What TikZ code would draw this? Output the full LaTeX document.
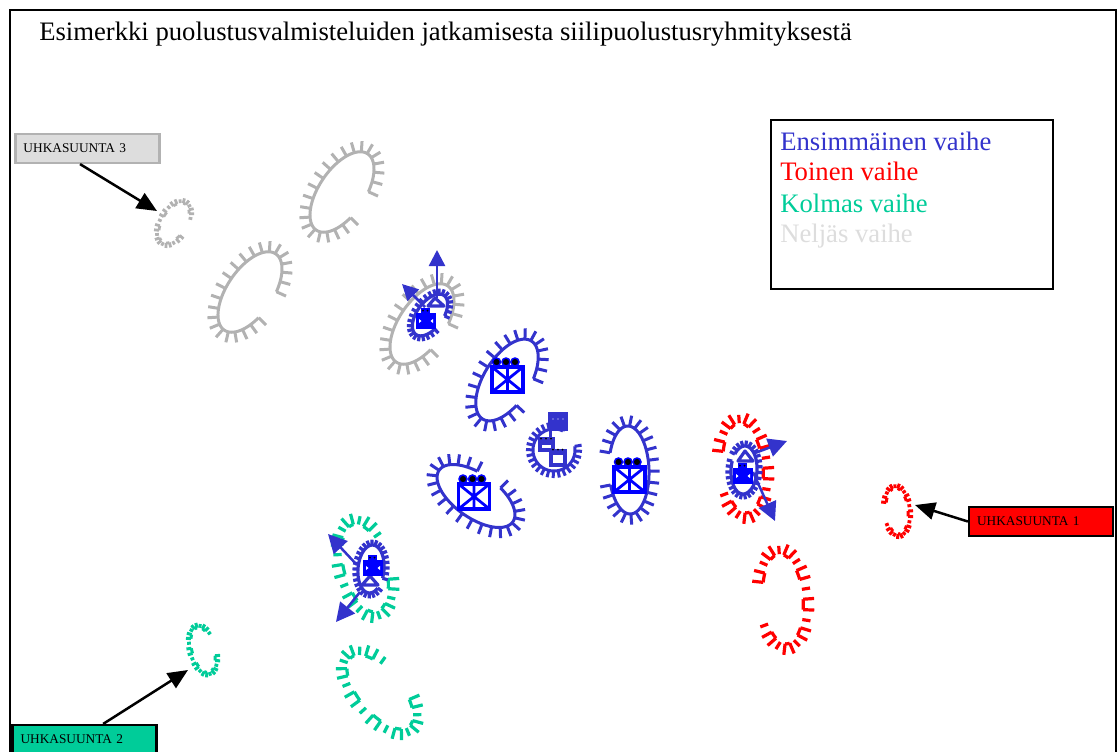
\documentclass[tikz,border=0pt]{standalone}
\usepackage{fontspec}
\setmainfont{Liberation Serif}
\usetikzlibrary{arrows.meta}
\definecolor{cblue}{HTML}{3333CC}
\definecolor{cpure}{HTML}{0000FF}
\definecolor{cred}{HTML}{FF0000}
\definecolor{cgreen}{HTML}{00CC99}
\definecolor{cgray}{HTML}{B2B2B2}
\definecolor{clight}{HTML}{DDDDDD}
\tikzset{
  px/.style={line width=#1*0.75pt},
  ubox/.style={draw=black,px=2.2,minimum width=144pt*0.75,minimum height=29pt*0.75,inner sep=0pt,text width=128pt*0.75,align=left,font=\fontsize{10}{12}\selectfont},
  legendtxt/.style={anchor=base west,inner sep=0pt,font=\fontsize{20}{24}\selectfont},
  pointer/.style={draw=black,px=2.5,-{Triangle[length=15pt,width=13pt]}},
  move/.style={draw=cblue,px=2.5,-{Triangle[length=12pt,width=12pt]}},
  movebig/.style={draw=cblue,px=2.5,-{Triangle[length=14pt,width=14pt]}},
  spike/.style={px=#1,line cap=butt,line join=round},
}
\newcommand{\EllPoint}[6]{%
  \pgfmathsetmacro{\ex}{#1+#3*cos(#6)*cos(#5)-#4*sin(#6)*sin(#5)}%
  \pgfmathsetmacro{\ey}{#2+#3*cos(#6)*sin(#5)+#4*sin(#6)*cos(#5)}%
  \pgfmathsetmacro{\nu}{cos(#6)/#3}%
  \pgfmathsetmacro{\nv}{sin(#6)/#4}%
  \pgfmathsetmacro{\nl}{sqrt(\nu*\nu+\nv*\nv)}%
  \pgfmathsetmacro{\nx}{(\nu*cos(#5)-\nv*sin(#5))/\nl}%
  \pgfmathsetmacro{\ny}{(\nu*sin(#5)+\nv*cos(#5))/\nl}%
}
\newcommand{\ArcSpike}[9]{%
  \draw[domain=#6:#7,samples=70,variable=\t]
    plot ({#1+#3*cos(\t)*cos(#5)-#4*sin(\t)*sin(#5)},{#2+#3*cos(\t)*sin(#5)+#4*sin(\t)*cos(#5)});
  \foreach \i in {0,...,#8}{%
    \pgfmathsetmacro{\tt}{#6+\i*(#7-#6)/#8}%
    \EllPoint{#1}{#2}{#3}{#4}{#5}{\tt}%
    \draw (\ex,\ey) -- ++({#9*\nx},{#9*\ny});
  }%
}
\newcommand{\ArcBroken}[9]{%
  \pgfmathsetmacro{\dd}{(#7-#6)/#8}%
  \foreach \i in {1,...,#8}{%
    \pgfmathsetmacro{\ta}{#6+(\i-1)*\dd}%
    \pgfmathsetmacro{\tb}{\ta+0.34*\dd}%
    \pgfmathsetmacro{\tc}{\ta+0.68*\dd}%
    \draw[domain=\ta:\tb,samples=6,variable=\t]
      plot ({#1+#3*cos(\t)*cos(#5)-#4*sin(\t)*sin(#5)},{#2+#3*cos(\t)*sin(#5)+#4*sin(\t)*cos(#5)});
    \EllPoint{#1}{#2}{#3}{#4}{#5}{\ta}%
    \draw (\ex,\ey) -- ++({#9*\nx},{#9*\ny});
    \EllPoint{#1}{#2}{#3}{#4}{#5}{\tb}%
    \draw (\ex,\ey) -- ++({#9*\nx},{#9*\ny});
    \EllPoint{#1}{#2}{#3}{#4}{#5}{\tc}%
    \draw (\ex,\ey) -- ++({0.75*#9*\nx},{0.75*#9*\ny});
  }%
}
\newcommand{\BigUnit}[2]{%
  \begin{scope}[shift={(#1,#2)}]
    \draw[cpure,px=3.5] (0,0) rectangle (31,25);
    \draw[cpure,px=2.8] (0,0) -- (31,25) (31,0) -- (0,25) (15.5,0) -- (15.5,25);
    \foreach \d in {4.5,14,23}{\fill[black,draw=cpure,px=1.5] (\d,-5) circle (4);}
  \end{scope}}
\newcommand{\SmallUnit}[2]{%
  \begin{scope}[shift={(#1,#2)}]
    \fill[cpure] (0,0) rectangle (20,16);
    \fill[cpure] (5,-5) rectangle (14,0);
    \fill[white] (3,6) -- (5.5,8) -- (3,10) -- cycle (17,6) -- (14.5,8) -- (17,10) -- cycle;
    \fill[black] (7,-2.5) circle (1) (11.5,-2.5) circle (1);
  \end{scope}}
\newcommand{\Tri}[6]{\draw[cblue,px=3.2,line join=round] (#1,#2) -- (#3,#4) -- (#5,#6) -- cycle;}
\begin{document}
\begin{tikzpicture}[x=0.75pt,y=-0.75pt]
\path[use as bounding box] (0,0) rectangle (1117,751);
\clip (0,0) rectangle (1117,751);
\draw[black,px=2] (9.5,770) -- (9.5,9.5) -- (1115.5,9.5) -- (1115.5,770);
\node[legendtxt] (title) at (39,40) {Esimerkki puolustusvalmisteluiden jatkamisesta siilipuolustusryhmityksestä};
\node[draw=black,px=2.5,minimum width=282*0.75pt,minimum height=169*0.75pt,inner sep=0pt] (legend) at (912,204.5) {};
\node[legendtxt,text=cblue] (l1) at (780,150) {Ensimmäinen vaihe};
\node[legendtxt,text=cred] (l2) at (780,180) {Toinen vaihe};
\node[legendtxt,text=cgreen] (l3) at (780,212) {Kolmas vaihe};
\node[legendtxt,text=clight] (l4) at (780,242) {Neljäs vaihe};
% gray
\begin{scope}[cgray,spike=3]
  \ArcSpike{342}{192}{46}{23}{-56}{111}{431}{22}{10.5}
  \ArcSpike{250}{292}{46}{23}{-56}{111}{431}{22}{10.5}
  \ArcSpike{422}{324}{46}{23}{-56}{111}{431}{22}{10.5}
\end{scope}
\begin{scope}[cgray,spike=2.8]
  \ArcBroken{174}{223}{22}{12}{-60}{111}{431}{8}{5}
\end{scope}
% red
\begin{scope}[cred,spike=3.2]
  \ArcBroken{743}{468}{45}{20}{85}{114}{431}{8}{11}
  \ArcBroken{783}{599}{45}{20}{85}{114}{431}{8}{11}
\end{scope}
\begin{scope}[cred,spike=3]
  \ArcBroken{897}{511}{23}{11}{85}{114}{431}{8}{5}
\end{scope}
% green
\begin{scope}[cgreen,spike=3.2]
  \ArcBroken{365}{568}{45}{21}{75}{292}{605}{8}{11}
  \ArcBroken{380}{692}{45}{21}{50}{303}{614}{8}{11}
\end{scope}
\begin{scope}[cgreen,spike=3]
  \ArcBroken{203}{650}{23}{11}{75}{292}{605}{8}{5}
\end{scope}
% blue outlines
\begin{scope}[cblue,spike=3]
  \ArcSpike{507}{380}{46}{23}{-58}{111}{431}{22}{10.5}
  \ArcSpike{476}{496}{45}{22}{35}{290}{613}{22}{10.5}
  \ArcSpike{629}{470}{44}{20}{88}{114}{431}{22}{10.5}
  \ArcSpike{554}{450}{21}{21}{0}{-10}{295}{24}{7}
\end{scope}
\begin{scope}[cblue,spike=3.2]
  \ArcSpike{430}{315}{24}{13}{-54}{111}{431}{24}{5.5}
  \ArcSpike{744}{470}{24}{13}{93}{130}{470}{26}{5.5}
  \ArcSpike{371}{569}{24}{13}{95}{320}{650}{26}{5.5}
\end{scope}
% units
\BigUnit{492}{367}
\BigUnit{458.5}{484}
\BigUnit{614}{467}
% centre small group
\fill[cblue] (548,412) rectangle (568,431);
\draw[cblue,px=3] (550,431) -- (550,438);
\foreach \d in {553,558,563}{\fill[white] (\d,419) circle (0.7);}
\draw[cblue,px=3.5,fill=white] (540,439) rectangle (553,450);
\fill[cblue] (538.5,439) rectangle (554,445);
\foreach \d in {541,546,551}{\fill[black] (\d,438.5) circle (1);}
\draw[cblue,px=3.5,fill=white] (551,451) rectangle (565,465);
\fill[cblue] (549.5,450) rectangle (566.5,455);
\foreach \d in {553,558,562.5}{\fill[black] (\d,449.5) circle (1);}
% small units + triangles + arrows
\coordinate (a1s) at (437,298); \coordinate (a1e) at (437,250);
\coordinate (a2s) at (425,307); \coordinate (a2e) at (402,284);
\draw[move] (a1s) -- (a1e);
\draw[move] (a2s) -- (a2e);
\Tri{435}{298}{428}{306}{444}{306}
\SmallUnit{416}{313}
\coordinate (b1s) at (755,453); \coordinate (b1e) at (787,441);
\coordinate (b2s) at (753,472); \coordinate (b2e) at (775,521);
\draw[movebig] (b1s) -- (b1e);
\draw[movebig] (b2s) -- (b2e);
\Tri{745}{451}{738}{461}{753}{461}
\SmallUnit{733}{468}
\coordinate (c1s) at (357,565); \coordinate (c1e) at (328,534);
\coordinate (c2s) at (360,592); \coordinate (c2e) at (336,622);
\draw[movebig] (c1s) -- (c1e);
\draw[movebig] (c2s) -- (c2e);
\Tri{370}{576}{362}{585}{378}{585}
\SmallUnit{363}{560}
% labels
\node[ubox,draw=cgray,fill=clight] (u3) at (87.5,148.5) {UHKASUUNTA 3};
\node[ubox,fill=cgreen] (u2) at (84.5,739.5) {UHKASUUNTA 2};
\node[ubox,fill=cred] (u1) at (1041,521.5) {UHKASUUNTA 1};
\coordinate (t3) at (157,211);
\coordinate (t2) at (188,670);
\coordinate (t1) at (915,505);
\draw[pointer] ([xshift=-5.6pt]u3.south) -- (t3);
\draw[pointer] ([xshift=14pt]u2.north) -- (t2);
\draw[pointer] (u1.west) -- (t1);
\end{tikzpicture}
\end{document}
